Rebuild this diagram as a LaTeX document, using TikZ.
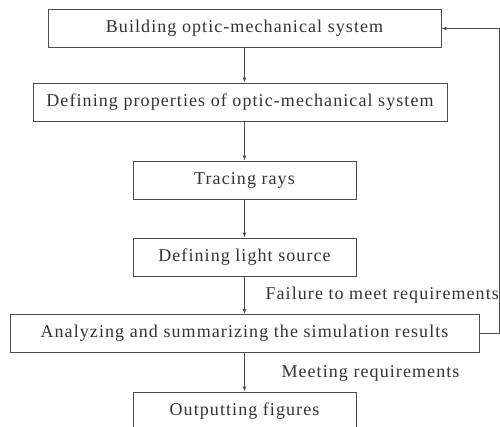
\documentclass[tikz,border=0pt]{standalone}
\usepackage{fontspec}
\setmainfont{Liberation Serif}[LetterSpace=6]
\usetikzlibrary{arrows.meta}

\tikzset{
  stage/.style={draw=black!70, line width=0.9pt, fill=white, inner sep=0pt,
    minimum height=38pt, font=\fontsize{18}{21}\selectfont, text=black!80},
  flow/.style={draw=black!70, line width=0.9pt, -{Latex[length=5pt,width=4pt]}},
  note/.style={font=\fontsize{18}{21}\selectfont, text=black!80, anchor=west}
}

\begin{document}
\begin{tikzpicture}[x=1pt,y=-1pt]
			\useasboundingbox (0,0) rectangle (500,427);

			\node[stage, minimum width=393pt] (build) at (244.5,28.5) {Building optic-mechanical system};
			\node[stage, minimum width=414pt] (props) at (240,102) {Defining properties of optic-mechanical system};
			\node[stage, minimum width=223pt] (trace) at (244.5,180) {Tracing rays};
			\node[stage, minimum width=223pt] (light) at (244.5,257) {Defining light source};
			\node[stage, minimum width=469pt] (result) at (244.5,333.5) {Analyzing and summarizing the simulation results};
			\node[stage, minimum width=223pt] (output) at (244.5,411) {Outputting figures};

			\coordinate (loopb) at (499,333.5);
			\coordinate (loopt) at (499,28.5);

			\draw[flow] (build) -- (build |- props.north);
			\draw[flow] (props.south -| trace) -- (trace);
			\draw[flow] (trace) -- (light);
			\draw[flow] (light) -- (result);
			\draw[flow] (result) -- (output);
			\draw[flow] (result.east) -- (loopb) -- (loopt) -- (build.east);

			\node[note] (fail) at (262,295) {Failure to meet requirements};
			\node[note] (meet) at (278,373) {Meeting requirements};
		\end{tikzpicture}
\end{document}
